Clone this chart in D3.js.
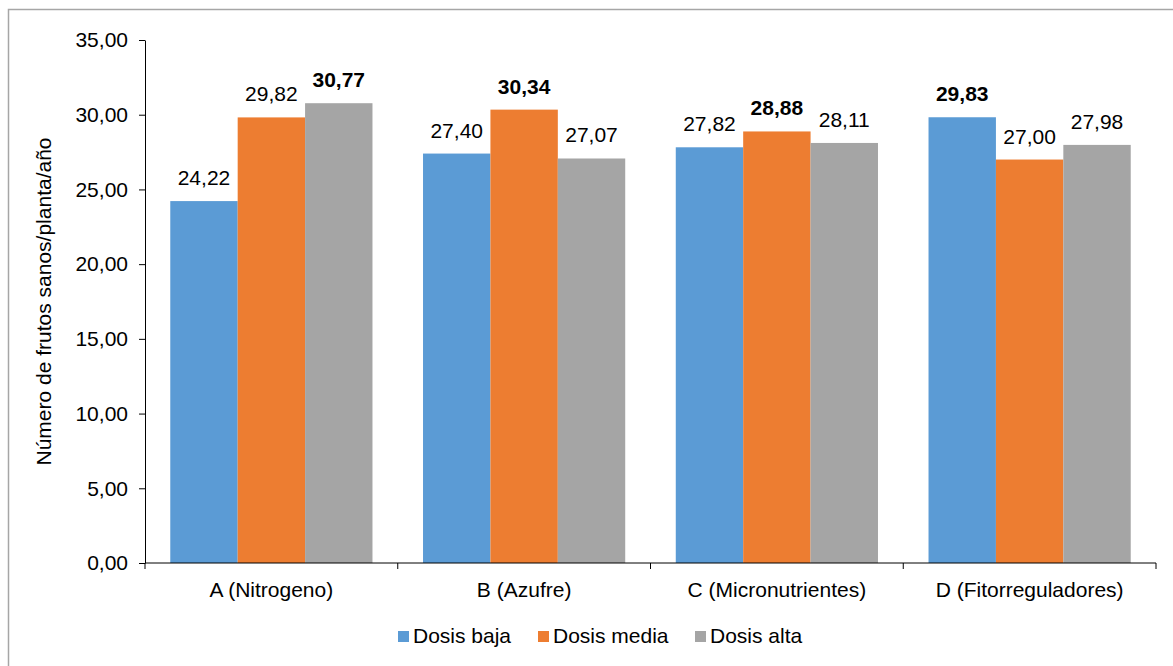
<!DOCTYPE html>
<html>
<head>
<meta charset="utf-8">
<script src="https://cdn.jsdelivr.net/npm/d3@7"></script>
<style>
  html, body { margin: 0; padding: 0; background: #fff; }
  svg { display: block; font-family: "Liberation Sans", Arial, sans-serif; }
</style>
</head>
<body>
<svg id="chart" width="1173" height="666"></svg>
<script>
// Treatments and dose levels
const categories = ["A (Nitrogeno)", "B (Azufre)", "C (Micronutrientes)", "D (Fitorreguladores)"];
const seriesNames = ["Dosis baja", "Dosis media", "Dosis alta"];
const dosisBaja  = [24.22, 27.40, 27.82, 29.83];
const dosisMedia = [29.82, 30.34, 28.88, 27.00];
const dosisAlta  = [30.77, 27.07, 28.11, 27.98];
const yTicks = [0, 5, 10, 15, 20, 25, 30, 35];
const colors = ["#5b9bd5", "#ed7d31", "#a5a5a5"];

const seriesValues = [dosisBaja, dosisMedia, dosisAlta];
const fmt = v => v.toFixed(2).replace(".", ",");
const FS = 21;

const svg = d3.select("#chart");

// outer frame
svg.append("rect")
  .attr("x", 8.5).attr("y", 9.5)
  .attr("width", 1172).attr("height", 672)
  .attr("fill", "none").attr("stroke", "#a6a6a6").attr("stroke-width", 1.5);

const plotLeft = 145, plotRight = 1156, plotTop = 40, plotBottom = 563;

const x = d3.scaleBand().domain(categories).range([plotLeft, plotRight]).paddingInner(0).paddingOuter(0);
const xInner = d3.scaleBand().domain(seriesNames).range([0, x.bandwidth()]).paddingInner(0).paddingOuter(0.375);
const y = d3.scaleLinear().domain([0, 35]).range([plotBottom, plotTop]);

// bars and value labels (largest value of each group in bold)
const groups = svg.append("g").selectAll("g")
  .data(categories)
  .join("g")
  .attr("transform", d => `translate(${x(d)},0)`);

groups.each(function(cat, ci) {
  const g = d3.select(this);
  const vals = seriesValues.map(s => s[ci]);
  const maxV = d3.max(vals);
  seriesNames.forEach((s, si) => {
    const v = vals[si];
    g.append("rect")
      .attr("x", xInner(s))
      .attr("y", y(v))
      .attr("width", xInner.bandwidth())
      .attr("height", y(0) - y(v))
      .attr("fill", colors[si]);
    g.append("text")
      .attr("x", xInner(s) + xInner.bandwidth() / 2)
      .attr("y", y(v) - 16)
      .attr("text-anchor", "middle")
      .attr("font-size", FS)
      .attr("font-weight", v === maxV ? "bold" : "normal")
      .attr("fill", "#000")
      .text(fmt(v));
  });
});

// y axis
const yAxis = d3.axisLeft(y).tickValues(yTicks).tickSize(6).tickSizeOuter(0).tickPadding(11).tickFormat(fmt);
const gy = svg.append("g").attr("transform", `translate(${plotLeft},0)`).call(yAxis);
gy.select(".domain").attr("stroke", "#000").attr("stroke-width", 1);
gy.selectAll(".tick line").attr("stroke", "#000");
gy.selectAll(".tick text").attr("font-size", FS).attr("fill", "#000")
  .attr("font-family", "Liberation Sans, Arial, sans-serif");

// x axis line with category boundary ticks
const gx = svg.append("g").attr("transform", `translate(0,${plotBottom})`);
gx.append("line").attr("x1", plotLeft).attr("x2", plotRight).attr("y1", 0).attr("y2", 0)
  .attr("stroke", "#000").attr("stroke-width", 1);
const bounds = categories.map(c => x(c)).concat([plotRight]);
gx.selectAll("line.bt").data(bounds).join("line")
  .attr("class", "bt")
  .attr("x1", d => d).attr("x2", d => d)
  .attr("y1", 0).attr("y2", 6)
  .attr("stroke", "#000");
gx.selectAll("text").data(categories).join("text")
  .attr("x", d => x(d) + x.bandwidth() / 2)
  .attr("y", 34)
  .attr("text-anchor", "middle")
  .attr("font-size", FS)
  .attr("fill", "#000")
  .text(d => d);

// y axis title
svg.append("text")
  .attr("transform", `translate(51,${(plotTop + plotBottom) / 2}) rotate(-90)`)
  .attr("text-anchor", "middle")
  .attr("font-size", FS)
  .attr("fill", "#000")
  .text("Número de frutos sanos/planta/año");

// legend
const legendX = [398, 538, 695];
const lg = svg.append("g");
seriesNames.forEach((s, i) => {
  lg.append("rect")
    .attr("x", legendX[i]).attr("y", 631)
    .attr("width", 11).attr("height", 11)
    .attr("fill", colors[i]);
  lg.append("text")
    .attr("x", legendX[i] + 15).attr("y", 643)
    .attr("font-size", FS)
    .attr("fill", "#000")
    .text(s);
});
</script>
</body>
</html>
